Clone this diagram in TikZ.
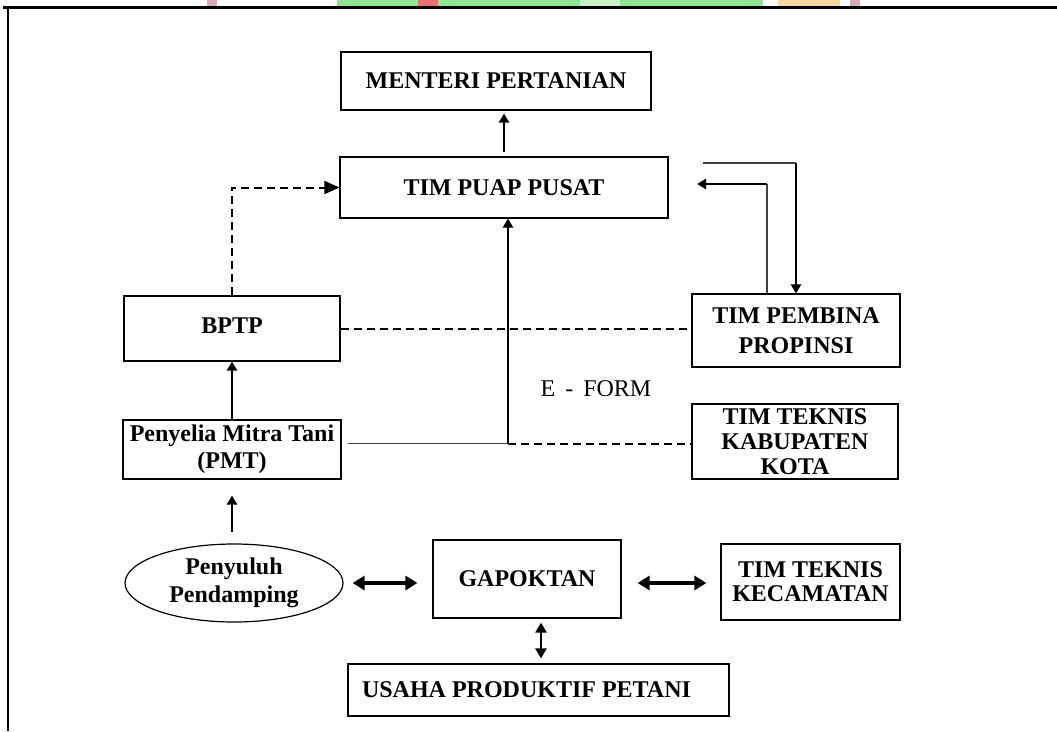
\documentclass[tikz,border=0pt]{standalone}
\usepackage{fontspec}
\setmainfont{Liberation Serif}
\usetikzlibrary{arrows.meta,shapes.geometric}
\definecolor{wmgreen}{RGB}{144,230,144}
\definecolor{wmred}{RGB}{240,110,120}
\definecolor{wmpink}{RGB}{215,170,180}
\definecolor{wmorange}{RGB}{245,215,160}
\begin{document}
\begin{tikzpicture}[x=1pt,y=-1pt,
  box/.style={draw, line width=1.2pt, inner sep=0pt, align=center,
    font=\fontsize{24}{28}\selectfont\bfseries},
  arr/.style={line width=2.4pt, -{Triangle[length=9pt,width=10pt]}},
  darr/.style={line width=3.2pt, {Triangle[length=12pt,width=14pt]}-{Triangle[length=12pt,width=14pt]}},
  vdarr/.style={line width=2.4pt, {Triangle[length=10pt,width=11pt]}-{Triangle[length=10pt,width=11pt]}},
  dline/.style={line width=2pt, dash pattern=on 8pt off 5pt},
  thinline/.style={line width=1.2pt, black!75}]
\useasboundingbox (0,0) rectangle (1057,731);
% watermark strip at the top
\fill[wmpink] (207,0) rectangle (217,6);
\fill[wmgreen] (337,0) rectangle (580,6);
\fill[wmgreen] (620,0) rectangle (763,6);
\fill[wmgreen!50!white] (580,0) rectangle (620,6);
\fill[wmred] (418,0) rectangle (438,6);
\fill[wmorange] (778,0) rectangle (840,6);
\fill[wmpink] (850,0) rectangle (860,6);
% frame
\draw[line width=2.6pt] (3,7.5) -- (1057,7.5);
\draw[line width=1.8pt] (8,7) -- (8,731);

% nodes
\node[box, minimum width=310pt, minimum height=58pt] (men) at (496,81) {MENTERI PERTANIAN};
\node[box, minimum width=328pt, minimum height=61pt] (pusat) at (504,187.5) {TIM PUAP PUSAT};
\node[box, minimum width=216pt, minimum height=65pt] (bptp) at (232,328.5) {\raisebox{6pt}{BPTP}};
\node[box, minimum width=208pt, minimum height=73pt, font=\fontsize{24}{30}\selectfont\bfseries] (pemb) at (796,330.5) {TIM PEMBINA\\PROPINSI};
\node[box, minimum width=218pt, minimum height=59pt, font=\fontsize{24}{27}\selectfont\bfseries] (pmt) at (232,449.5) {Penyelia Mitra Tani\\(PMT)};
\node[box, minimum width=206pt, minimum height=75pt, font=\fontsize{24}{25}\selectfont\bfseries] (kab) at (795,441.5) {TIM TEKNIS\\KABUPATEN\\KOTA};
\node[box, ellipse, minimum width=218pt, minimum height=78pt, font=\fontsize{24}{28}\selectfont\bfseries] (peny) at (234,583) {Penyuluh\\Pendamping};
\node[box, minimum width=188pt, minimum height=78pt] (gap) at (527,579) {GAPOKTAN};
\node[box, minimum width=179pt, minimum height=76pt, font=\fontsize{24}{24}\selectfont\bfseries] (kec) at (810.5,582) {TIM TEKNIS\\KECAMATAN};
\node[box, minimum width=381pt, minimum height=52pt] (usaha) at (538.5,690) {USAHA PRODUKTIF PETANI\hspace*{24pt}};
\node[font=\fontsize{24}{28}\selectfont, inner sep=0pt] (eform) at (596,389) {E\hspace{10pt}-\hspace{10pt}FORM};

% connectors
\draw[arr] ([yshift=4pt]pusat.north) -- ([yshift=-3pt]men.south -| pusat.north);
\draw[dline, -{Triangle[length=15pt,width=13pt]}] (bptp.north) |- (pusat.west);
\draw[dline] (bptp.east) -- (bptp.east -| pemb.west);

\coordinate (pa) at (703,163);
\coordinate (pb) at (pemb.north |- pa);
\draw[thinline] (pa) -- (pb);
\draw[arr] (pb) -- (pemb.north);

\coordinate (pc) at (767,184);
\coordinate (pd) at (697,184);
\coordinate (pe) at (pemb.north -| pc);
\draw[thinline] (pe) -- (pc);
\draw[arr] (pc) -- (pd);

\coordinate (j) at (508,443.5);
\coordinate (pmte) at (348,443.5);
\draw[thinline] (pmte) -- (j);
\draw[arr] (j) -- (j |- pusat.south);
\draw[dline] (j) -- (j -| kab.west);

\draw[arr] (pmt.north) -- (bptp.south);
\coordinate (p1) at ([yshift=11pt]peny.north -| pmt.south);
\coordinate (p2) at ([yshift=-16pt]pmt.south);
\draw[arr] (p1) -- (p2);

\coordinate (a1) at ([xshift=9pt]peny.east);
\coordinate (a2) at ([xshift=-15pt]gap.west |- a1);
\draw[darr] (a1) -- (a2);
\coordinate (b1) at ([xshift=16pt]gap.east |- a1);
\coordinate (b2) at ([xshift=-14pt]kec.west |- a1);
\draw[darr] (b1) -- (b2);
\coordinate (g1) at ([xshift=14pt,yshift=-4pt]gap.south);
\path (usaha.north -| g1) coordinate (u0);
\coordinate (u1) at ([yshift=5pt]u0);
\draw[vdarr] (g1) -- (u1);
\end{tikzpicture}
\end{document}
